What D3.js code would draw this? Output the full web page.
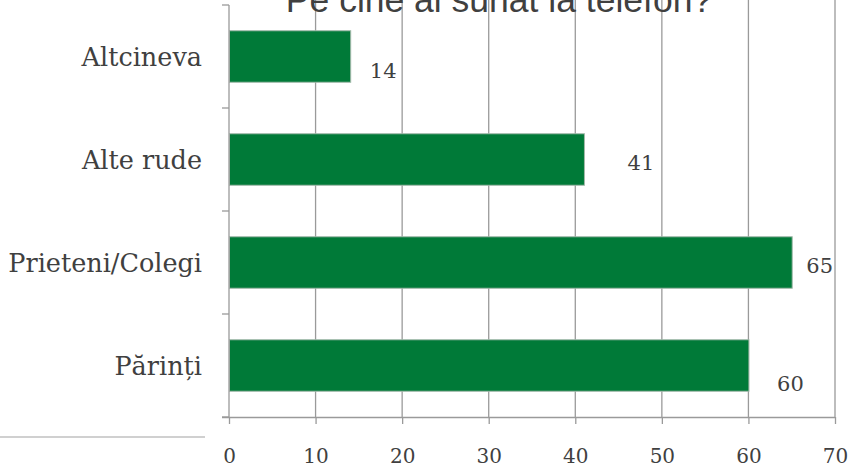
<!DOCTYPE html>
<html><head><meta charset="utf-8">
<script src="https://cdn.jsdelivr.net/npm/d3@7"></script>
<style>body{margin:0;background:#fff}svg{display:block}</style>
</head><body>
<svg id="c" width="849" height="470"></svg>
<script>
const title = "Pe cine ai sunat la telefon?";
const categories = ["Părinți", "Prieteni/Colegi", "Alte rude", "Altcineva"];
const values = [60, 65, 41, 14];
const xTicks = [0, 10, 20, 30, 40, 50, 60, 70];
// label placement relative to bar end / band centre (layout only)
const labelDx = [42, 28, 57, 33];
const labelDy = [18.5, 3.5, 3.5, 14.5];

const svg = d3.select("#c");
const serif = "'DejaVu Serif', Georgia, serif";
const textCol = "#404040";
const gridCol = "#9a9a9a";

const x = d3.scaleLinear().domain([0, 70]).range([229, 835]);
const y = d3.scaleBand().domain(categories.slice().reverse()).range([5, 417])
  .paddingInner(0.5).paddingOuter(0.25);

// gridlines
svg.append("g").selectAll("line").data(xTicks.slice(1)).join("line")
  .attr("x1", d => x(d)).attr("x2", d => x(d))
  .attr("y1", 0).attr("y2", 417)
  .attr("stroke", gridCol).attr("stroke-width", 1.3);

// bars
svg.append("g").selectAll("rect").data(categories).join("rect")
  .attr("x", x(0) + 0.5)
  .attr("y", d => y(d))
  .attr("width", (d, i) => x(values[i]) - x(0))
  .attr("height", y.bandwidth())
  .attr("fill", "#007a38")
  .attr("stroke", "#a3b9aa").attr("stroke-width", 1);

// y axis line + ticks at band boundaries
const step = y.step();
const r0 = y.range()[0];
svg.append("line").attr("x1", x(0)).attr("x2", x(0)).attr("y1", r0).attr("y2", 417)
  .attr("stroke", gridCol).attr("stroke-width", 1.3);
svg.append("g").selectAll("line").data(d3.range(categories.length + 1)).join("line")
  .attr("x1", x(0) - 7).attr("x2", x(0))
  .attr("y1", i => r0 + i * step).attr("y2", i => r0 + i * step)
  .attr("stroke", gridCol).attr("stroke-width", 1.3);

// x axis
const xAxis = d3.axisBottom(x).tickValues(xTicks).tickSize(7).tickSizeOuter(0).tickPadding(25);
const gx = svg.append("g").attr("transform", "translate(0,417)").call(xAxis);
gx.select(".domain").attr("stroke", gridCol).attr("stroke-width", 1.3)
  .attr("d", `M${x(0) - 7},0.5H${x(70)}`);
gx.selectAll(".tick line").attr("stroke", gridCol).attr("stroke-width", 1.3);
gx.selectAll(".tick text").attr("font-family", serif).attr("font-size", 20).attr("fill", textCol);

// separator line at bottom left
svg.append("line").attr("x1", 0).attr("x2", 205).attr("y1", 437).attr("y2", 437)
  .attr("stroke", "#d0d0d0").attr("stroke-width", 2);

// category labels
svg.append("g").selectAll("text").data(categories).join("text")
  .attr("x", 202).attr("y", d => y(d) + y.bandwidth() / 2)
  .attr("text-anchor", "end").attr("dominant-baseline", "central")
  .attr("font-family", serif).attr("font-size", 25.5).attr("fill", textCol)
  .text(d => d);

// value labels
svg.append("g").selectAll("text").data(categories).join("text")
  .attr("x", (d, i) => x(values[i]) + labelDx[i])
  .attr("y", (d, i) => y(d) + y.bandwidth() / 2 + labelDy[i])
  .attr("text-anchor", "middle").attr("dominant-baseline", "central")
  .attr("font-family", serif).attr("font-size", 21).attr("fill", textCol)
  .text((d, i) => values[i]);

// title (partially cut at top, as in the reference)
svg.append("text").attr("x", 499).attr("y", 12).attr("text-anchor", "middle")
  .attr("font-family", "Arial, 'Liberation Sans', sans-serif").attr("font-size", 35.5)
  .attr("fill", textCol).text(title);
</script>
</body></html>
